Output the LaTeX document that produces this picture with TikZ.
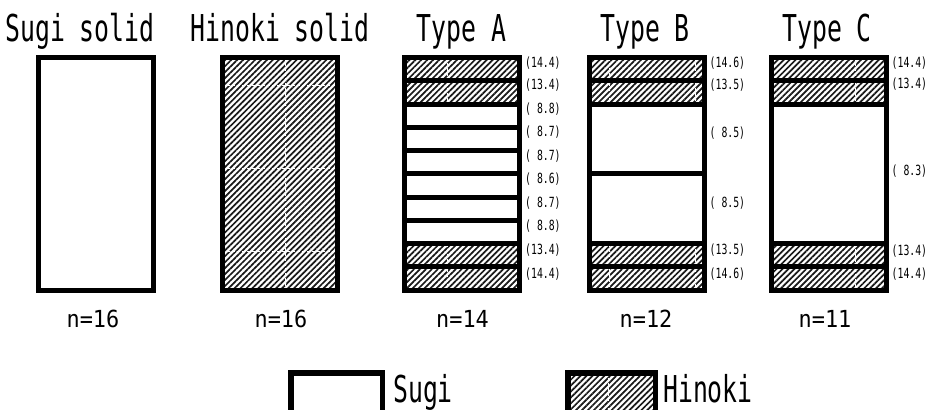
\documentclass[tikz,border=0pt]{standalone}
\usepackage{fontspec}
\newfontfamily\titlefont[FakeStretch=0.67]{DejaVu Sans Mono}
\newfontfamily\nfont[FakeStretch=0.93]{DejaVu Sans Mono}
\newfontfamily\valfont[FakeStretch=0.70]{DejaVu Sans Mono}
\usetikzlibrary{patterns.meta}
\tikzset{
  frame/.style={draw=black, line width=5pt},
  sep/.style={draw=black, line width=5pt},
  hinoki/.style={pattern={Lines[angle=45,distance=4.2pt,line width=1.7pt]}, pattern color=black!90},
  seam/.style={draw=white, line width=0.8pt, dash pattern=on 3pt off 2pt},
  title/.style={anchor=base, inner sep=0pt, font=\titlefont\fontsize{37}{37}\selectfont},
  count/.style={anchor=base, inner sep=0pt, font=\nfont\fontsize{23.5}{24}\selectfont},
  val/.style={anchor=base west, inner sep=0pt, font=\valfont\fontsize{14}{14}\selectfont},
}
\begin{document}
\begin{tikzpicture}[x=1pt,y=-1pt]
\useasboundingbox (0,0) rectangle (930,410);
\clip (0,0) rectangle (930,410);
\fill[white] (0,0) rectangle (930,410);

% ---------- titles ----------
\node[title] (t1) at (80,41) {Sugi solid};
\node[title] (t2) at (280,41) {Hinoki solid};
\node[title] (t3) at (461.5,41) {Type A};
\node[title] (t4) at (645,41) {Type B};
\node[title] (t5) at (827,41) {Type C};

% ---------- Sugi solid ----------
\draw[frame] (38,57.5) rectangle (153,290);

% ---------- Hinoki solid ----------
\fill[hinoki] (222,57.5) rectangle (337,290);
\draw[seam] (285,57.5) -- (285,290);
\foreach \yy in {85,168,251} \draw[seam] (222,\yy) -- (337,\yy);
\draw[frame] (222,57.5) rectangle (337,290);

% ---------- Type A ----------
\fill[hinoki] (404.5,57.5) rectangle (519.5,104);
\fill[hinoki] (404.5,243.5) rectangle (519.5,290);
\draw[seam] (447.7,57.5) -- (447.7,104);
\draw[seam] (447.7,243.5) -- (447.7,290);
\foreach \yy in {80.75,104,127.25,150.5,173.75,197,220.25,243.5,266.75}
  \draw[sep] (404.5,\yy) -- (519.5,\yy);
\draw[frame] (404.5,57.5) rectangle (519.5,290);

% ---------- Type B ----------
\fill[hinoki] (589,57.5) rectangle (704,104);
\fill[hinoki] (589,243.5) rectangle (704,290);
\foreach \xx in {609,695}{
  \draw[seam] (\xx,57.5) -- (\xx,104);
  \draw[seam] (\xx,243.5) -- (\xx,290);}
\foreach \yy in {80.75,104,173.75,243.5,266.75}
  \draw[sep] (589,\yy) -- (704,\yy);
\draw[frame] (589,57.5) rectangle (704,290);

% ---------- Type C ----------
\fill[hinoki] (771,57.5) rectangle (886,104);
\fill[hinoki] (771,243.5) rectangle (886,290);
\draw[seam] (855,57.5) -- (855,104);
\draw[seam] (855,243.5) -- (855,290);
\foreach \yy in {80.75,104,243.5,266.75}
  \draw[sep] (771,\yy) -- (886,\yy);
\draw[frame] (771,57.5) rectangle (886,290);

% ---------- layer values ----------
\node[val] (a1)  at (525,67)    {(14.4)};
\node[val] (a2)  at (525,89.5)  {(13.4)};
\node[val] (a3)  at (525,113)   {( 8.8)};
\node[val] (a4)  at (525,136.5) {( 8.7)};
\node[val] (a5)  at (525,160)   {( 8.7)};
\node[val] (a6)  at (525,183.5) {( 8.6)};
\node[val] (a7)  at (525,207)   {( 8.7)};
\node[val] (a8)  at (525,230.5) {( 8.8)};
\node[val] (a9)  at (525,254.5) {(13.4)};
\node[val] (a10) at (525,278)   {(14.4)};

\node[val] (b1) at (709.5,67)    {(14.6)};
\node[val] (b2) at (709.5,89)    {(13.5)};
\node[val] (b3) at (709.5,137.5) {( 8.5)};
\node[val] (b4) at (709.5,207.5) {( 8.5)};
\node[val] (b5) at (709.5,254.5) {(13.5)};
\node[val] (b6) at (709.5,278)   {(14.6)};

\node[val] (c1) at (891.5,67)    {(14.4)};
\node[val] (c2) at (891.5,88.5)  {(13.4)};
\node[val] (c3) at (891.5,175)   {( 8.3)};
\node[val] (c4) at (891.5,255)   {(13.4)};
\node[val] (c5) at (891.5,278.3) {(14.4)};

% ---------- counts ----------
\node[count] (n1) at (93,327)    {n=16};
\node[count] (n2) at (281,327)   {n=16};
\node[count] (n3) at (462.5,327) {n=14};
\node[count] (n4) at (646,327)   {n=12};
\node[count] (n5) at (825,327)   {n=11};

% ---------- legend ----------
\draw[frame, line width=5.5pt] (290.75,425) -- (290.75,372.75) -- (382.25,372.75) -- (382.25,425);
\fill[hinoki] (567.75,372.75) rectangle (655.25,425);
\draw[seam] (608,372.75) -- (608,425);
\draw[frame, line width=5.5pt] (567.75,425) -- (567.75,372.75) -- (655.25,372.75) -- (655.25,425);
\node[title, anchor=base west] (ls) at (393,402) {Sugi};
\node[title, anchor=base west] (lh) at (663,402) {Hinoki};
\end{tikzpicture}
\end{document}
